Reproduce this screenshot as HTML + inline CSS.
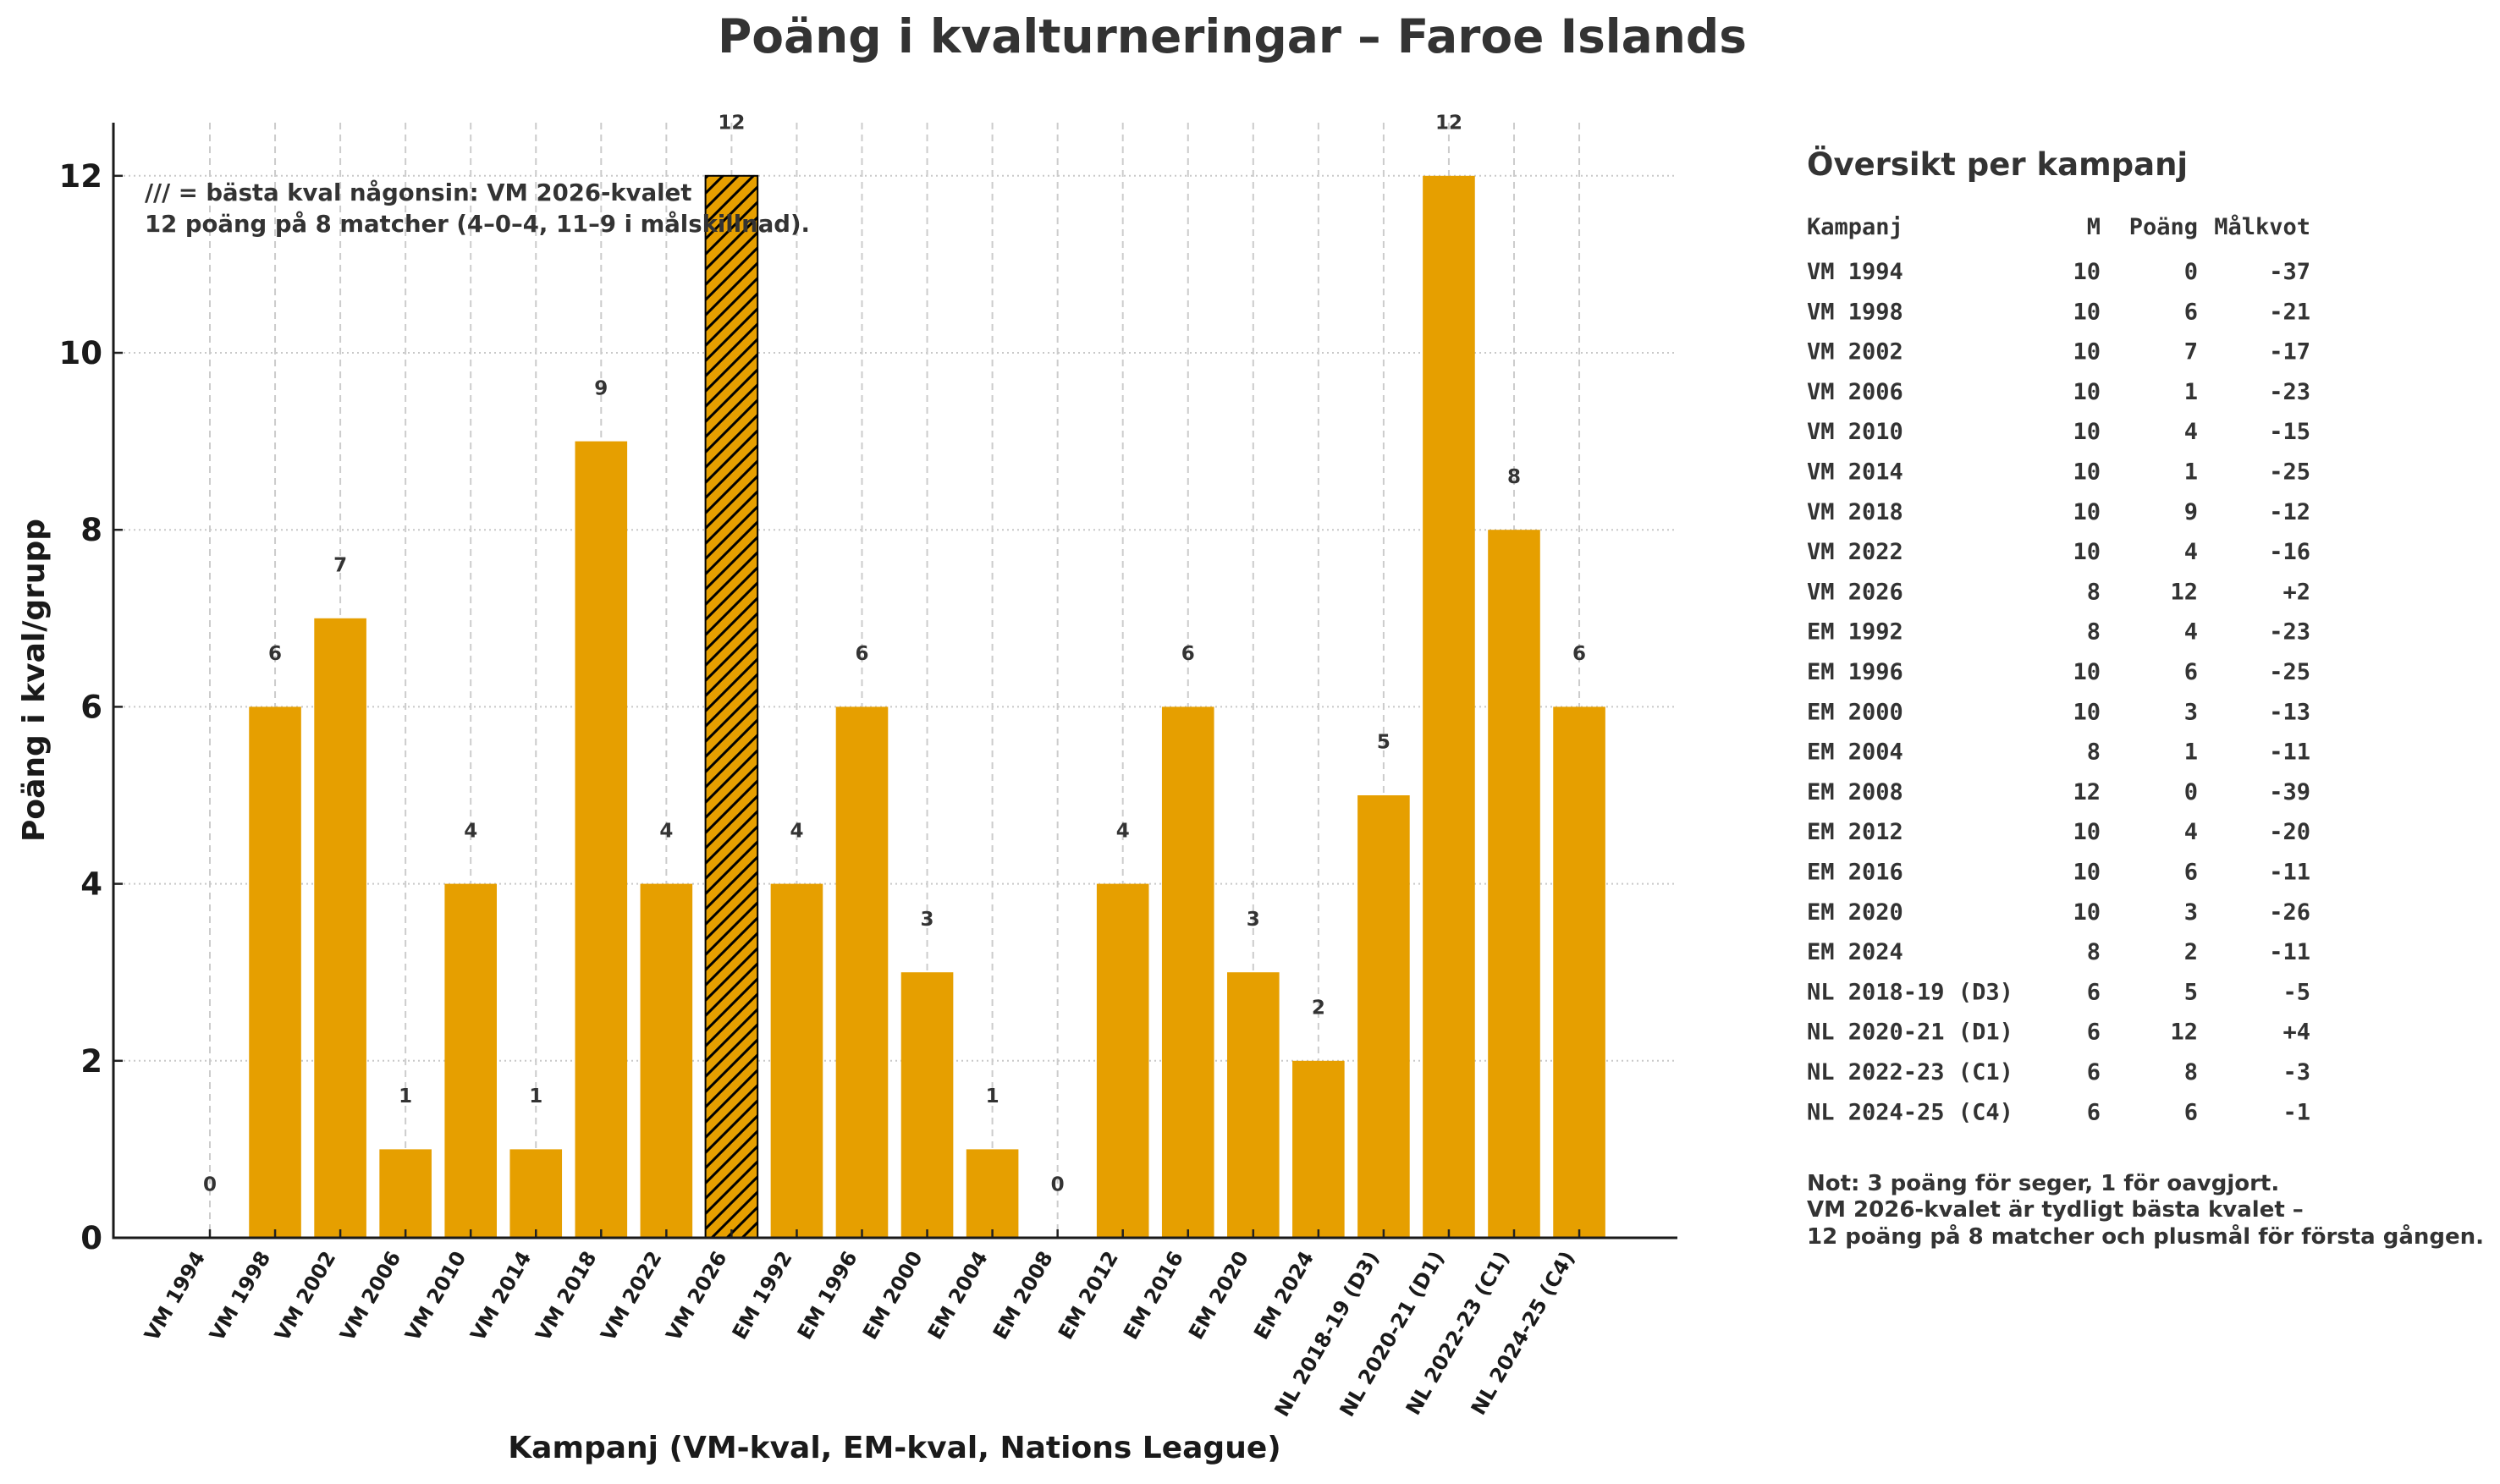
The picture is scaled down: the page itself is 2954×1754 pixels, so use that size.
<!DOCTYPE html>
<html><head><meta charset="utf-8"><style>
html,body{margin:0;padding:0;background:#fff;}
svg{display:block;font-family:"DejaVu Sans","Liberation Sans",sans-serif;}
</style></head><body>
<svg id="s" width="2954" height="1754" viewBox="0 0 2954 1754" xmlns="http://www.w3.org/2000/svg">
<defs>
<pattern id="h" patternUnits="userSpaceOnUse" width="18" height="18">
<rect width="18" height="18" fill="#E69F00"/>
<path d="M-4.5,4.5 l9,-9 M0,18 l18,-18 M13.5,22.5 l9,-9" stroke="#000" stroke-width="3"/>
</pattern>
</defs>
<text x="1456" y="62" text-anchor="middle" font-size="55" font-weight="bold" fill="#333">Poäng i kvalturneringar – Faroe Islands</text>
<g id="g"></g>
</svg>
<script>
var s=document.getElementById('g'),h='';
var labels=["VM 1994","VM 1998","VM 2002","VM 2006","VM 2010","VM 2014","VM 2018","VM 2022","VM 2026","EM 1992","EM 1996","EM 2000","EM 2004","EM 2008","EM 2012","EM 2016","EM 2020","EM 2024","NL 2018-19 (D3)","NL 2020-21 (D1)","NL 2022-23 (C1)","NL 2024-25 (C4)"];
var v=[0,6,7,1,4,1,9,4,12,4,6,3,1,0,4,6,3,2,5,12,8,6];
var M=[10,10,10,10,10,10,10,10,8,8,10,10,8,12,10,10,10,8,6,6,6,6];
var G=["-37","-21","-17","-23","-15","-25","-12","-16","+2","-23","-25","-13","-11","-39","-20","-11","-26","-11","-5","+4","-3","-1"];
var z=1463,u=104.6,x0=248,dx=77.05,bw=61.6;
for(var t=0;t<=12;t+=2){var y=z-t*u;
 if(t>0)h+='<line x1="134" x2="1982" y1="'+y+'" y2="'+y+'" stroke="#c8c8c8" stroke-width="2" stroke-dasharray="2,4"/>';
 h+='<line x1="134" x2="145" y1="'+y+'" y2="'+y+'" stroke="#222" stroke-width="2.5"/>';
 h+='<text x="121" y="'+(y+13)+'" text-anchor="end" font-size="37" font-weight="bold" fill="#1a1a1a">'+t+'</text>';}
for(var i=0;i<22;i++){var x=x0+i*dx;
 h+='<line x1="'+x+'" x2="'+x+'" y1="145" y2="'+z+'" stroke="#cccccc" stroke-width="2" stroke-dasharray="8,6"/>';}
for(var i=0;i<22;i++){var x=x0+i*dx,bh=v[i]*u;
 if(v[i]>0)h+='<rect x="'+(x-bw/2)+'" y="'+(z-bh)+'" width="'+bw+'" height="'+bh+'" fill="'+(i==8?'url(#h)':'#E69F00')+'"'+(i==8?' stroke="#000" stroke-width="2"':'')+'/>';
 h+='<text x="'+x+'" y="'+(z-(v[i]+0.5)*u-3)+'" text-anchor="middle" font-size="23" font-weight="bold" fill="#333">'+v[i]+'</text>';
 h+='<line x1="'+x+'" x2="'+x+'" y1="'+z+'" y2="'+(z-10)+'" stroke="#222" stroke-width="2.5"/>';
 h+='<text transform="translate('+(x-5)+',1485) rotate(-60)" text-anchor="end" font-size="24" font-weight="bold" fill="#1a1a1a">'+labels[i]+'</text>';}
h+='<line x1="134" x2="134" y1="145" y2="'+(z+1.5)+'" stroke="#1a1a1a" stroke-width="3"/>';
h+='<line x1="133" x2="1982" y1="'+z+'" y2="'+z+'" stroke="#1a1a1a" stroke-width="3"/>';
h+='<text x="171" y="237" font-size="27.5" font-weight="bold" fill="#333">/// = bästa kval någonsin: VM 2026-kvalet</text>';
h+='<text x="171" y="274" font-size="27.5" font-weight="bold" fill="#333">12 poäng på 8 matcher (4–0–4, 11–9 i målskillnad).</text>';
h+='<text x="1057" y="1723" text-anchor="middle" font-size="36" font-weight="bold" fill="#1a1a1a">Kampanj (VM-kval, EM-kval, Nations League)</text>';
h+='<text transform="translate(52,804) rotate(-90)" text-anchor="middle" font-size="36" font-weight="bold" fill="#1a1a1a">Poäng i kval/grupp</text>';
h+='<text x="2135" y="207" font-size="37" font-weight="bold" fill="#333">Översikt per kampanj</text>';
var mf='font-family="DejaVu Sans Mono,Liberation Mono,monospace" font-size="27" font-weight="bold" fill="#333"';
h+='<text x="2135" y="277" '+mf+'>Kampanj</text><text x="2482" y="277" text-anchor="end" '+mf+'>M</text><text x="2597" y="277" text-anchor="end" '+mf+'>Poäng</text><text x="2730" y="277" text-anchor="end" '+mf+'>Målkvot</text>';
for(var i=0;i<22;i++){var y=330+i*47.3;
 h+='<text x="2135" y="'+y+'" '+mf+'>'+labels[i]+'</text><text x="2482" y="'+y+'" text-anchor="end" '+mf+'>'+M[i]+'</text><text x="2597" y="'+y+'" text-anchor="end" '+mf+'>'+v[i]+'</text><text x="2730" y="'+y+'" text-anchor="end" '+mf+'>'+G[i]+'</text>';}
var nf='font-size="26" font-weight="bold" fill="#333"';
h+='<text x="2135" y="1407" '+nf+'>Not: 3 poäng för seger, 1 för oavgjort.</text>';
h+='<text x="2135" y="1438" '+nf+'>VM 2026-kvalet är tydligt bästa kvalet –</text>';
h+='<text x="2135" y="1470" '+nf+'>12 poäng på 8 matcher och plusmål för första gången.</text>';
s.innerHTML=h;
</script>
</body></html>
